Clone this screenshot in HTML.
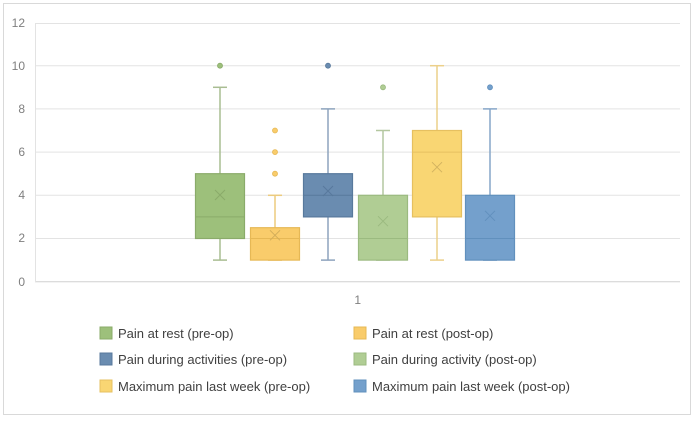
<!DOCTYPE html>
<html><head><style>body{margin:0;background:#fff}</style></head><body>
<svg width="700" height="421" xmlns="http://www.w3.org/2000/svg" font-family="Liberation Sans, sans-serif">
<rect x="3.5" y="3.5" width="687" height="411" fill="#fff" stroke="#d9d9d9"/>
<g stroke="#e3e3e3" stroke-width="1">
<line x1="35" x2="680" y1="23.5" y2="23.5"/>
<line x1="35" x2="680" y1="65.7" y2="65.7"/>
<line x1="35" x2="680" y1="108.9" y2="108.9"/>
<line x1="35" x2="680" y1="152.1" y2="152.1"/>
<line x1="35" x2="680" y1="195.3" y2="195.3"/>
<line x1="35" x2="680" y1="238.5" y2="238.5"/>
<line x1="35" x2="680" y1="281.7" y2="281.7" stroke="#d0d0d0"/>
<line x1="35.5" x2="35.5" y1="23" y2="282"/>
</g>
<g font-size="12" fill="#7f7f7f" text-anchor="end">
<text x="25" y="27">12</text><text x="25" y="70">10</text><text x="25" y="113">8</text>
<text x="25" y="156">6</text><text x="25" y="199">4</text><text x="25" y="242">2</text><text x="25" y="286">0</text>
<text x="361" y="304">1</text>
</g>

<!-- Box 1 -->
<g stroke="#a9bd92" stroke-width="1.5">
<line x1="220" x2="220" y1="87.3" y2="260.1"/><line x1="213" x2="227" y1="87.3" y2="87.3"/><line x1="213" x2="227" y1="260.1" y2="260.1"/></g>
<rect x="195.5" y="173.7" width="49" height="64.8" fill="#9dc07b" stroke="#8aab6a" stroke-width="1.2"/>
<line x1="195.5" x2="244.5" y1="216.9" y2="216.9" stroke="#8aab6a"/>
<path d="M215 190L225 200M225 190L215 200" stroke="#8aab6a"/>
<circle cx="220" cy="65.7" r="2.5" fill="#9dc07b" stroke="#8aab6a" stroke-width="0.8"/>

<!-- Box 2 -->
<g stroke="#eccb7e" stroke-width="1.5">
<line x1="275" x2="275" y1="195.3" y2="260.1"/><line x1="268" x2="282" y1="195.3" y2="195.3"/><line x1="268" x2="282" y1="260.1" y2="260.1"/></g>
<rect x="250.5" y="227.7" width="49" height="32.4" fill="#f9cc6b" stroke="#e6b855" stroke-width="1.2"/>
<line x1="250.5" x2="299.5" y1="238.5" y2="238.5" stroke="#e6b855"/>
<path d="M270 230.3L280 240.3M280 230.3L270 240.3" stroke="#d2ad5a"/>
<circle cx="275" cy="173.7" r="2.5" fill="#f9cc6b" stroke="#e6b855" stroke-width="0.8"/>
<circle cx="275" cy="152.1" r="2.5" fill="#f9cc6b" stroke="#e6b855" stroke-width="0.8"/>
<circle cx="275" cy="130.5" r="2.5" fill="#f9cc6b" stroke="#e6b855" stroke-width="0.8"/>

<!-- Box 3 -->
<g stroke="#8da3bd" stroke-width="1.5">
<line x1="328" x2="328" y1="108.9" y2="260.1"/><line x1="321" x2="335" y1="108.9" y2="108.9"/><line x1="321" x2="335" y1="260.1" y2="260.1"/></g>
<rect x="303.5" y="173.7" width="49" height="43.2" fill="#6a8cb0" stroke="#58799c" stroke-width="1.2"/>
<line x1="303.5" x2="352.5" y1="195.3" y2="195.3" stroke="#58799c"/>
<path d="M323 186L333 196M333 186L323 196" stroke="#58799c"/>
<circle cx="328" cy="65.7" r="2.5" fill="#6a8cb0" stroke="#58799c" stroke-width="0.8"/>

<!-- Box 4 -->
<g stroke="#b4c7a0" stroke-width="1.5">
<line x1="383" x2="383" y1="130.5" y2="260.1"/><line x1="376" x2="390" y1="130.5" y2="130.5"/><line x1="376" x2="390" y1="260.1" y2="260.1"/></g>
<rect x="358.5" y="195.3" width="49" height="64.8" fill="#b0cd94" stroke="#9bba80" stroke-width="1.2"/>
<line x1="358.5" x2="407.5" y1="238.5" y2="238.5" stroke="#9bba80"/>
<path d="M378 216.2L388 226.2M388 216.2L378 226.2" stroke="#9bba80"/>
<circle cx="383" cy="87.3" r="2.5" fill="#b0cd94" stroke="#9bba80" stroke-width="0.8"/>

<!-- Box 5 -->
<g stroke="#ecd08a" stroke-width="1.5">
<line x1="437" x2="437" y1="65.7" y2="260.1"/><line x1="430" x2="444" y1="65.7" y2="65.7"/><line x1="430" x2="444" y1="260.1" y2="260.1"/></g>
<rect x="412.5" y="130.5" width="49" height="86.4" fill="#f9d673" stroke="#e6c060" stroke-width="1.2"/>
<line x1="412.5" x2="461.5" y1="152.1" y2="152.1" stroke="#e6c060"/>
<path d="M432 162.2L442 172.2M442 162.2L432 172.2" stroke="#d2b260"/>

<!-- Box 6 -->
<g stroke="#86a6c8" stroke-width="1.5">
<line x1="490" x2="490" y1="108.9" y2="260.1"/><line x1="483" x2="497" y1="108.9" y2="108.9"/><line x1="483" x2="497" y1="260.1" y2="260.1"/></g>
<rect x="465.5" y="195.3" width="49" height="64.8" fill="#74a0cc" stroke="#6190bd" stroke-width="1.2"/>
<line x1="465.5" x2="514.5" y1="238.5" y2="238.5" stroke="#6190bd"/>
<path d="M485 210.8L495 220.8M495 210.8L485 220.8" stroke="#6190bd"/>
<circle cx="490" cy="87.3" r="2.5" fill="#74a0cc" stroke="#6190bd" stroke-width="0.8"/>

<g font-size="13" fill="#404040">
<rect x="100" y="327" width="12" height="12" fill="#9dc07b" stroke="#8aab6a"/><text x="118" y="338">Pain at rest (pre-op)</text>
<rect x="100" y="353" width="12" height="12" fill="#6a8cb0" stroke="#58799c"/><text x="118" y="364">Pain during activities (pre-op)</text>
<rect x="100" y="380" width="12" height="12" fill="#f9d673" stroke="#e6c060"/><text x="118" y="391">Maximum pain last week (pre-op)</text>
<rect x="354" y="327" width="12" height="12" fill="#f9cc6b" stroke="#e6b855"/><text x="372" y="338">Pain at rest (post-op)</text>
<rect x="354" y="353" width="12" height="12" fill="#b0cd94" stroke="#9bba80"/><text x="372" y="364">Pain during activity (post-op)</text>
<rect x="354" y="380" width="12" height="12" fill="#74a0cc" stroke="#6190bd"/><text x="372" y="391">Maximum pain last week (post-op)</text>
</g>
</svg>
</body></html>
